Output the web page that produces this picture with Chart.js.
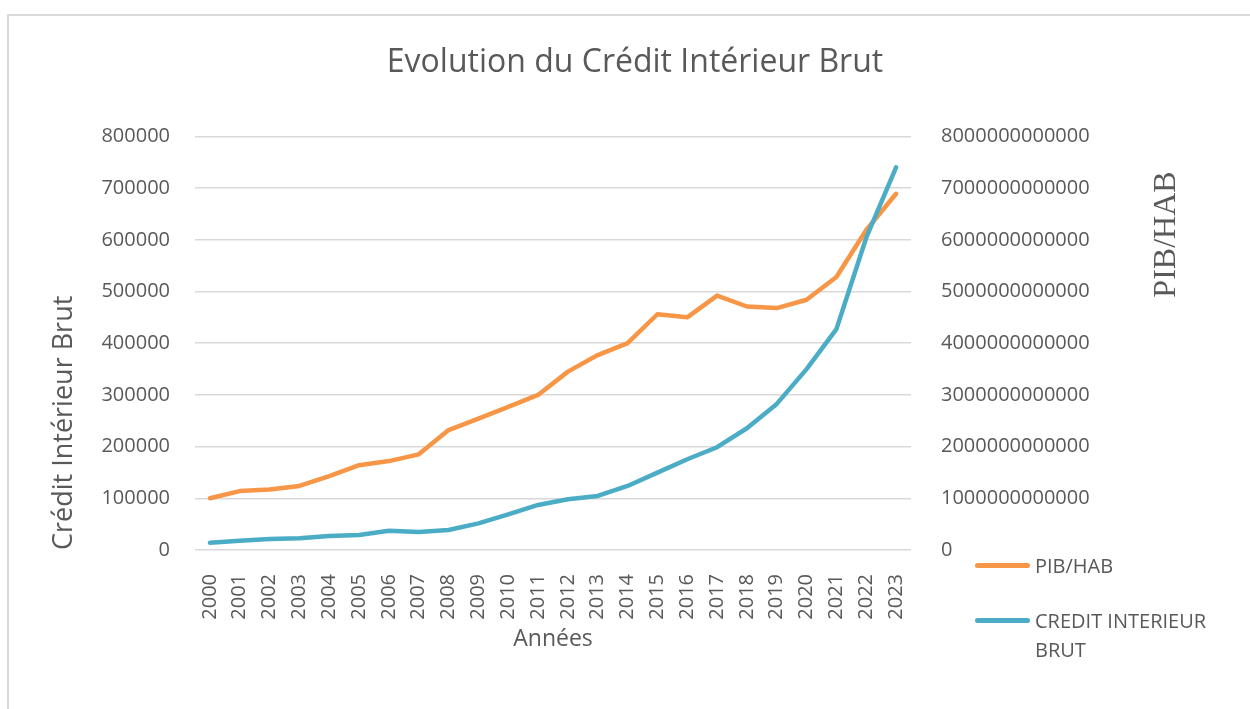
<!DOCTYPE html>
<html lang="fr">
<head>
<meta charset="utf-8">
<title>Evolution du Crédit Intérieur Brut</title>
<script src="https://cdn.jsdelivr.net/npm/chart.js@4.4.1/dist/chart.umd.min.js"></script>
<style>
    html, body { margin: 0; padding: 0; background: #fff; overflow: hidden; }
    #wrap { position: relative; width: 1250px; height: 709px; }
    #frame {
        position: absolute; left: 7px; top: 14px; width: 1300px; height: 760px;
        border-left: 2px solid #d9d9d9; border-top: 2px solid #d9d9d9;
    }
    #chart { position: absolute; left: 0; top: 0; }
    #legend {
        position: absolute; left: 975px; top: 551px; width: 260px;
        font-family: "Open Sans", sans-serif; font-size: 20px; color: #595959;
    }
    .item { position: relative; padding-left: 60px; line-height: 29px; margin-bottom: 26px; }
    .swatch {
        position: absolute; left: 0; top: 12px; width: 55px; height: 5px; border-radius: 3px;
    }
</style>
</head>
<body>
<div id="wrap">
    <div id="frame"></div>
    <canvas id="chart" width="1250" height="709"></canvas>
    <div id="legend"></div>
</div>
<script>
// Years on the x axis
const years = ['2000', '2001', '2002', '2003', '2004', '2005', '2006', '2007', '2008', '2009', '2010', '2011',
               '2012', '2013', '2014', '2015', '2016', '2017', '2018', '2019', '2020', '2021', '2022', '2023'];

// PIB/HAB (right axis)
const pibHab = [1.00e12, 1.14e12, 1.17e12, 1.24e12, 1.43e12, 1.64e12, 1.72e12, 1.85e12, 2.32e12, 2.54e12, 2.77e12, 3.00e12,
                3.45e12, 3.77e12, 4.00e12, 4.56e12, 4.50e12, 4.92e12, 4.71e12, 4.68e12, 4.84e12, 5.28e12, 6.19e12, 6.89e12];

// Crédit intérieur brut (left axis)
const creditInterieur = [14200, 18000, 21300, 22600, 27100, 29000, 37400, 34800, 38700, 51600, 69000, 87100,
                         98100, 104500, 123900, 149700, 175600, 198800, 235500, 282600, 349800, 427200, 604000, 740000];

const seriesNames = ['PIB/HAB', 'CREDIT INTERIEUR BRUT'];
const seriesColors = ['#F79646', '#4BACC6'];

const textColor = '#595959';
const gridColor = '#d9d9d9';
const font = '"Open Sans", sans-serif';

// Right axis title reads bottom-to-top, which Chart.js does not do for right axes
const rightTitlePlugin = {
    id: 'rightTitle',
    afterDraw(chart) {
        const ctx = chart.ctx;
        const s = chart.scales.y1;
        ctx.save();
        ctx.translate(s.left + 256, chart.chartArea.top + 35);
        ctx.rotate(-Math.PI / 2);
        ctx.font = '32px "Liberation Serif", serif';
        ctx.fillStyle = textColor;
        ctx.textAlign = 'right';
        ctx.textBaseline = 'middle';
        ctx.fillText('PIB/HAB', 0, 0);
        ctx.restore();
    }
};

const chart = new Chart(document.getElementById('chart'), {
    type: 'line',
    data: {
        labels: years,
        datasets: [
            {
                label: seriesNames[0],
                data: pibHab,
                yAxisID: 'y1',
                borderColor: seriesColors[0],
                backgroundColor: seriesColors[0],
                borderWidth: 4.5,
                pointRadius: 0,
                tension: 0,
                borderCapStyle: 'round',
                borderJoinStyle: 'round',
                order: 1
            },
            {
                label: seriesNames[1],
                data: creditInterieur,
                yAxisID: 'y',
                borderColor: seriesColors[1],
                backgroundColor: seriesColors[1],
                borderWidth: 4.5,
                pointRadius: 0,
                tension: 0,
                borderCapStyle: 'round',
                borderJoinStyle: 'round',
                order: 0
            }
        ]
    },
    options: {
        responsive: false,
        animation: false,
        layout: { padding: { left: 20, right: 0, top: 0, bottom: 0 } },
        plugins: {
            legend: { display: false },
            tooltip: { enabled: false },
            title: {
                display: true,
                text: 'Evolution du Crédit Intérieur Brut',
                color: textColor,
                font: { family: font, size: 32, weight: 'normal' },
                padding: { top: 44, bottom: 54 }
            }
        },
        scales: {
            x: {
                offset: true,
                grid: { display: false },
                border: { display: false },
                ticks: {
                    color: textColor,
                    font: { family: font, size: 20 },
                    minRotation: 90,
                    maxRotation: 90,
                    autoSkip: false,
                    padding: 16
                },
                title: {
                    display: true,
                    text: 'Années',
                    color: textColor,
                    font: { family: font, size: 23 },
                    padding: { top: 56, bottom: 56 }
                },
                afterFit(s) { s.height = 159; }
            },
            y: {
                position: 'left',
                min: 0,
                max: 800000,
                grid: { color: gridColor, lineWidth: 1.5, drawTicks: false },
                border: { display: false },
                ticks: {
                    stepSize: 100000,
                    color: textColor,
                    font: { family: font, size: 20 },
                    padding: 25,
                    callback: v => String(v)
                },
                title: {
                    display: true,
                    text: 'Crédit Intérieur Brut',
                    align: 'start',
                    color: textColor,
                    font: { family: font, size: 27 },
                    padding: { top: 28, bottom: 28 }
                },
                afterFit(s) { s.width = 175; }
            },
            y1: {
                position: 'right',
                min: 0,
                max: 8e12,
                grid: { display: false },
                border: { display: false },
                ticks: {
                    stepSize: 1e12,
                    color: textColor,
                    font: { family: font, size: 20 },
                    padding: 22,
                    callback: v => String(v)
                },
                afterFit(s) { s.width = 339; }
            }
        }
    },
    plugins: [rightTitlePlugin]
});

// HTML legend so the long label can wrap like the original
const legendEl = document.getElementById('legend');
chart.data.datasets.forEach(ds => {
    const item = document.createElement('div');
    item.className = 'item';
    const sw = document.createElement('span');
    sw.className = 'swatch';
    sw.style.background = ds.borderColor;
    item.appendChild(sw);
    item.appendChild(document.createTextNode(ds.label));
    legendEl.appendChild(item);
});
</script>
</body>
</html>
